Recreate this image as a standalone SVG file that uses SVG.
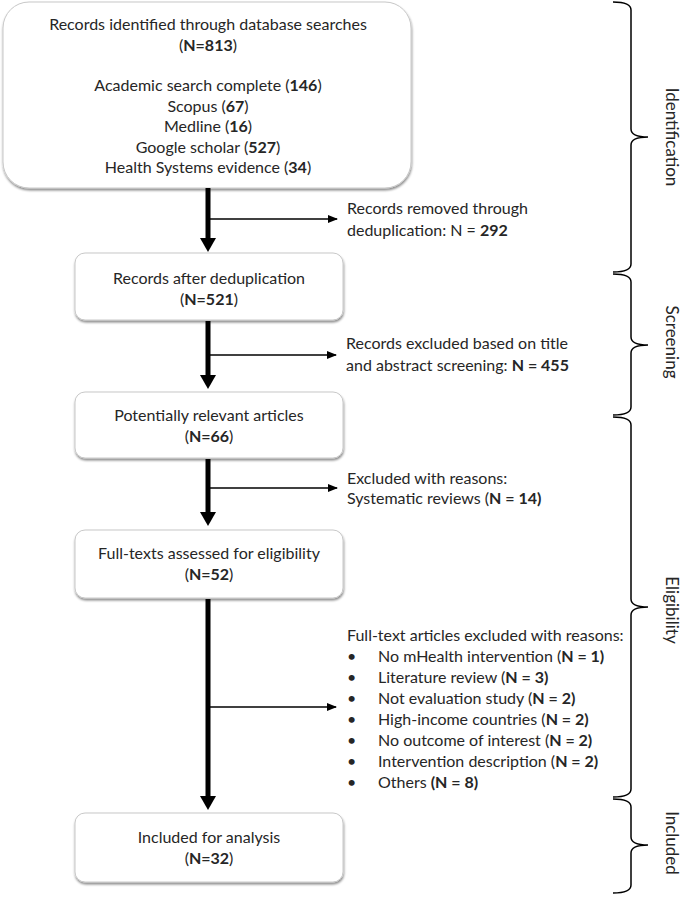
<svg xmlns="http://www.w3.org/2000/svg" width="685" height="901" viewBox="0 0 685 901">
<style>
text{font-family:Lato,"Open Sans","Liberation Sans",sans-serif;font-size:16px;fill:#262626}
.c{text-anchor:middle}
.b{font-weight:bold}
.lab{font-size:17px;text-anchor:middle}
.box{fill:#fff;stroke:#c8c8c8;stroke-width:1;filter:url(#sh)}
.shaft{stroke:#000;stroke-width:5;fill:none}
.side{stroke:#000;stroke-width:1.5;fill:none}
.brace{stroke:#000;stroke-width:1.5;fill:none}
</style>
<defs>
<filter id="sh" x="-10%" y="-10%" width="120%" height="130%">
<feDropShadow dx="0.5" dy="2" stdDeviation="1.2" flood-color="#000" flood-opacity="0.45"/>
</filter>
<marker id="ah" markerWidth="10" markerHeight="8" refX="9" refY="4" orient="auto" markerUnits="userSpaceOnUse">
<path d="M0,0 L10,4 L0,8 z" fill="#000"/>
</marker>
</defs>

<g id="n1">
<rect class="box" x="3" y="2" width="408" height="186" rx="26"/>
<text class="c" x="208" y="30">Records identified through database searches</text>
<text class="c" x="208" y="51">(<tspan class="b">N=813</tspan>)</text>
<text class="c" x="208" y="91">Academic search complete (<tspan class="b">146</tspan>)</text>
<text class="c" x="208" y="112">Scopus (<tspan class="b">67</tspan>)</text>
<text class="c" x="208" y="132">Medline (<tspan class="b">16</tspan>)</text>
<text class="c" x="208" y="153">Google scholar (<tspan class="b">527</tspan>)</text>
<text class="c" x="208" y="173">Health Systems evidence (<tspan class="b">34</tspan>)</text>
</g>

<g id="n2">
<rect class="box" x="75" y="253" width="268" height="67" rx="10"/>
<text class="c" x="209" y="284">Records after deduplication</text>
<text class="c" x="209" y="305">(<tspan class="b">N=521</tspan>)</text>
</g>

<g id="n3">
<rect class="box" x="75" y="392" width="268" height="66" rx="10"/>
<text class="c" x="209" y="421">Potentially relevant articles</text>
<text class="c" x="209" y="442">(<tspan class="b">N=66</tspan>)</text>
</g>

<g id="n4">
<rect class="box" x="75" y="530" width="268" height="68" rx="10"/>
<text class="c" x="209" y="559">Full-texts assessed for eligibility</text>
<text class="c" x="209" y="580">(<tspan class="b">N=52</tspan>)</text>
</g>

<g id="n5">
<rect class="box" x="75" y="813" width="268" height="69" rx="10"/>
<text class="c" x="209" y="843">Included for analysis</text>
<text class="c" x="209" y="864">(<tspan class="b">N=32</tspan>)</text>
</g>

<g id="ex1">
<text x="347" y="214">Records removed through</text>
<text x="347" y="236">deduplication: N = <tspan class="b">292</tspan></text>
</g>
<g id="ex2">
<text x="346" y="349">Records excluded based on title</text>
<text x="346" y="371">and abstract screening: <tspan class="b">N = 455</tspan></text>
</g>
<g id="ex3">
<text x="347" y="484">Excluded with reasons:</text>
<text x="347" y="504">Systematic reviews (<tspan class="b">N = 14)</tspan></text>
</g>
<g id="ex4">
<text x="347" y="641">Full-text articles excluded with reasons:</text>
<text x="347" y="662">•</text><text x="378" y="662">No mHealth intervention (<tspan class="b">N = 1)</tspan></text>
<text x="347" y="683">•</text><text x="378" y="683">Literature review (<tspan class="b">N = 3)</tspan></text>
<text x="347" y="704">•</text><text x="378" y="704">Not evaluation study (<tspan class="b">N = 2)</tspan></text>
<text x="347" y="725">•</text><text x="378" y="725">High-income countries (<tspan class="b">N = 2)</tspan></text>
<text x="347" y="746">•</text><text x="378" y="746">No outcome of interest (<tspan class="b">N = 2)</tspan></text>
<text x="347" y="767">•</text><text x="378" y="767">Intervention description (<tspan class="b">N = 2)</tspan></text>
<text x="347" y="788">•</text><text x="378" y="788">Others <tspan class="b">(N = 8)</tspan></text>
</g>

<g id="connectors">
<line class="shaft" x1="208" y1="188" x2="208" y2="240"/>
<polygon points="200,238 216,238 208,252" fill="#000"/>
<line class="side" x1="208" y1="219" x2="337" y2="219" marker-end="url(#ah)"/>

<line class="shaft" x1="208" y1="321" x2="208" y2="377"/>
<polygon points="200,375 216,375 208,389" fill="#000"/>
<line class="side" x1="208" y1="355" x2="336" y2="355" marker-end="url(#ah)"/>

<line class="shaft" x1="208" y1="459" x2="208" y2="514"/>
<polygon points="200,512 216,512 208,526" fill="#000"/>
<line class="side" x1="208" y1="488" x2="337" y2="488" marker-end="url(#ah)"/>

<line class="shaft" x1="208" y1="599" x2="208" y2="798"/>
<polygon points="200,796 216,796 208,810" fill="#000"/>
<line class="side" x1="208" y1="707" x2="336" y2="707" marker-end="url(#ah)"/>
</g>

<g id="brackets">
<path class="brace" d="M613,2 Q631,2 631,10 L631,129 Q631,137 648,137 Q631,137 631,145 L631,264 Q631,272 613,272"/>
<path class="brace" d="M613,274 Q631,274 631,282 L631,337 Q631,345 648,345 Q631,345 631,353 L631,407 Q631,415 613,415"/>
<path class="brace" d="M613,417 Q631,417 631,425 L631,599 Q631,607 648,607 Q631,607 631,615 L631,789 Q631,797 613,797"/>
<path class="brace" d="M613,799 Q631,799 631,807 L631,837 Q631,845 648,845 Q631,845 631,853 L631,885 Q631,893 613,893"/>
<text class="lab" transform="translate(666,137) rotate(90)">Identification</text>
<text class="lab" transform="translate(666,342) rotate(90)">Screening</text>
<text class="lab" transform="translate(666,610) rotate(90)">Eligibility</text>
<text class="lab" transform="translate(666,843) rotate(90)">Included</text>
</g>
</svg>
